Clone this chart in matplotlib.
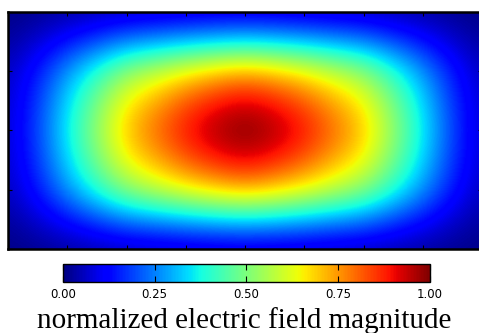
import matplotlib
matplotlib.use("Agg")
import matplotlib.pyplot as plt
import numpy as np

# grid node coordinates (field sampled every half unit)
x_nodes = [0.0, 0.5, 1.0, 1.5, 2.0, 2.5, 3.0, 3.5, 4.0, 4.5, 5.0, 5.5, 6.0, 6.5, 7.0, 7.5, 8.0]
y_nodes = [0.0, 0.5, 1.0, 1.5, 2.0, 2.5, 3.0, 3.5, 4.0]

# normalized field magnitude (rows = y_nodes, cols = x_nodes)
row_edge = [0.006, 0.016, 0.029, 0.041, 0.053, 0.058, 0.063, 0.067, 0.070, 0.067, 0.063, 0.058, 0.053, 0.041, 0.029, 0.016, 0.006]
row_q1   = [0.027, 0.073, 0.135, 0.194, 0.250, 0.278, 0.305, 0.326, 0.340, 0.326, 0.305, 0.278, 0.250, 0.194, 0.135, 0.073, 0.027]
row_q2   = [0.054, 0.144, 0.271, 0.394, 0.515, 0.577, 0.639, 0.687, 0.720, 0.687, 0.639, 0.577, 0.515, 0.394, 0.271, 0.144, 0.054]
row_q3   = [0.066, 0.177, 0.336, 0.492, 0.648, 0.732, 0.818, 0.882, 0.920, 0.882, 0.818, 0.732, 0.648, 0.492, 0.336, 0.177, 0.066]
row_mid  = [0.070, 0.190, 0.360, 0.530, 0.700, 0.795, 0.890, 0.960, 1.000, 0.960, 0.890, 0.795, 0.700, 0.530, 0.360, 0.190, 0.070]
field_rows = [row_edge, row_q1, row_q2, row_q3, row_mid, row_q3, row_q2, row_q1, row_edge]

cbar_ticks = [0.0, 0.25, 0.5, 0.75, 1.0]
cbar_tick_labels = ["0.00", "0.25", "0.50", "0.75", "1.00"]
cbar_label = "normalized electric field magnitude"

W, H = 479, 333
fig = plt.figure(figsize=(W / 100, H / 100), dpi=100)

ax = fig.add_axes([8 / W, 1 - 249 / H, 474 / W, 237.5 / H])
Z = np.array(field_rows)
dx = (x_nodes[1] - x_nodes[0]) / 2
dy = (y_nodes[1] - y_nodes[0]) / 2
im = ax.imshow(Z, cmap="jet", vmin=0, vmax=1, origin="lower",
               extent=(x_nodes[0] - dx, x_nodes[-1] + dx, y_nodes[0] - dy, y_nodes[-1] + dy),
               interpolation="bicubic", aspect="auto")
ax.set_xlim(x_nodes[0], x_nodes[-1])
ax.set_ylim(y_nodes[0], y_nodes[-1])
ax.set_xticks(np.arange(0, 9, 1))
ax.set_yticks(np.arange(0, 5, 1))
ax.tick_params(direction="in", length=3, width=0.8, top=True, right=True,
               labelbottom=False, labelleft=False)
for s in ax.spines.values():
    s.set_linewidth(1.8)

cax = fig.add_axes([63 / W, 1 - 282 / H, 367 / W, 18 / H])
cb = fig.colorbar(im, cax=cax, orientation="horizontal", ticks=cbar_ticks)
cb.ax.set_xticklabels(cbar_tick_labels)
cb.ax.tick_params(direction="in", length=4, width=0.8, top=True, bottom=True,
                  labelsize=8.5, pad=4.5)
cb.outline.set_linewidth(1.0)

fig.text(244 / W, 1 - 327.5 / H, cbar_label, family="Liberation Serif", size=21,
         ha="center", va="baseline")

fig.savefig("out.png", dpi=100)
